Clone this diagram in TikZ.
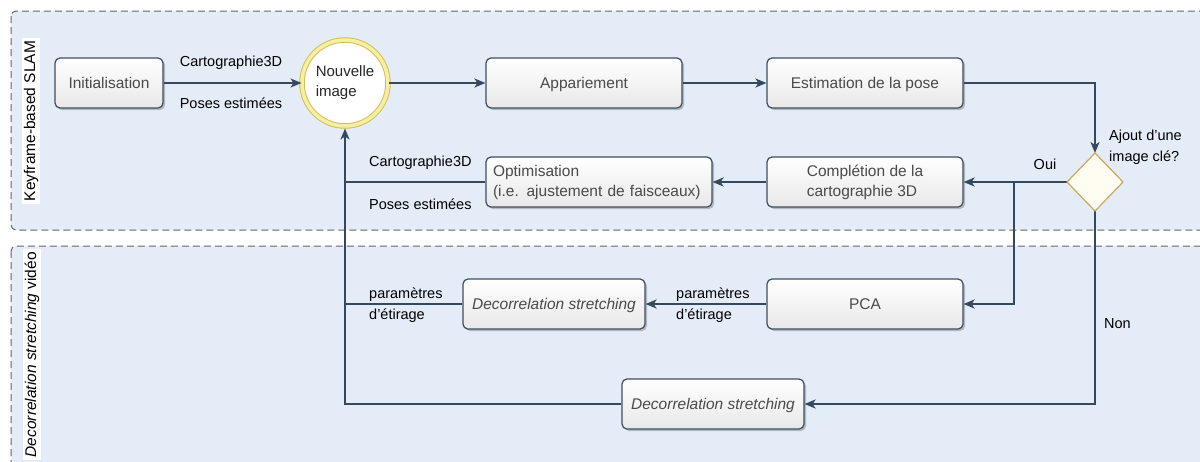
\documentclass[tikz,border=0pt]{standalone}
\usepackage{fontspec}
\setmainfont{Liberation Sans}
\usetikzlibrary{arrows.meta,shadows,shapes.geometric}
\definecolor{lanefill}{HTML}{E4ECF8}
\definecolor{laneborder}{HTML}{666666}
\definecolor{boxborder}{HTML}{3E4E60}
\definecolor{boxtext}{HTML}{4A4A4A}
\definecolor{arrowc}{HTML}{34495E}
\definecolor{gold}{HTML}{D6BE4E}
\definecolor{paleyellow}{HTML}{F5EFA6}
\definecolor{diamondborder}{HTML}{C9A85C}
\definecolor{diamondfill}{HTML}{FFFDF2}
\begin{document}
\begin{tikzpicture}[x=1pt,y=-1pt,
  lane/.style={draw=laneborder, dash pattern=on 7pt off 4pt, fill=lanefill, rounded corners=5pt, line width=1pt},
  lanelabel/.style={fill=white, rotate=90, font=\fontsize{15.5}{18}\selectfont, inner xsep=3pt, inner ysep=2pt},
  box/.style={draw=boxborder, line width=1.2pt, rounded corners=5pt, top color=white, bottom color=black!9,
    drop shadow={shadow xshift=2pt, shadow yshift=-2pt, opacity=0.22, fill=black},
    text=boxtext, font=\fontsize{15.5}{20}\selectfont, minimum height=50pt, inner sep=0pt},
  onebox/.style={box, text depth=0pt},
  itbox/.style={onebox, font=\fontsize{15.5}{20}\selectfont\itshape},
  lbl/.style={font=\fontsize{14.5}{21}\selectfont, text=black, inner sep=0pt},
  arr/.style={draw=arrowc, line width=1.8pt, -{Stealth[length=11pt,width=9pt,inset=3pt]}},
  ln/.style={draw=arrowc, line width=1.8pt}]

\useasboundingbox (0,0) rectangle (1200,461);
\begin{scope}
  \clip (0,0) rectangle (1200,461);
  \path[lane] (11,11) rectangle (1215,230);
  \path[lane] (11,246) rectangle (1215,490);
  \node[lanelabel] (lab1) at (31,121) {Keyframe-based SLAM};
  \node[lanelabel, anchor=east] (lab2) at (32,249) {\itshape Decorrelation stretching\/\upshape{} vidéo};
\end{scope}

% nodes
\node[onebox, minimum width=108pt] (init) at (109,83) {Initialisation};
\node[circle, draw=gold, line width=1pt, double=paleyellow, double distance=3.5pt,
      fill=white, minimum size=86pt, inner sep=0pt,
      align=left, text=black!85, font=\fontsize{15}{20}\selectfont] (nouv) at (345,83) {Nouvelle\\image};
\node[onebox, minimum width=196pt] (app) at (584,83) {Appariement};
\node[onebox, minimum width=196pt] (est) at (865,83) {Estimation de la pose};
\node[diamond, minimum width=56pt, minimum height=58pt, inner sep=0pt, outer sep=0pt] (dec) at (1095,182) {};
\node[lbl, anchor=west, align=left] (declbl) at (1109,147) {Ajout d'une\\image clé?};
\node[box, minimum width=196pt, align=left] (comp) at (865,182) {Complétion de la\\cartographie 3D};
\node[box, minimum width=226pt, text width=212pt, align=left] (opt) at (599,182) {Optimisation\\(i.e. ajustement de faisceaux)};
\node[onebox, minimum width=196pt] (pca) at (865,304) {PCA};
\node[itbox, minimum width=182pt] (ds1) at (554,304) {Decorrelation stretching};
\node[itbox, minimum width=182pt] (ds2) at (713,404) {Decorrelation stretching};

% junctions
\coordinate (dW) at (dec.west);
\coordinate (dS) at (dec.south);
\coordinate (b1) at (1014,182);
\coordinate (j1) at (nouv.south |- opt.west);
\coordinate (j2) at (nouv.south |- ds1.west);

% connectors
\draw[arr] (init) -- (nouv.west);
\draw[arr] (nouv.east) -- (app);
\draw[arr] (app) -- (est);
\draw[arr] (est.east) -| (dec.north);
\draw[arr] (dW) -- (comp.east);
\draw[arr] (b1) |- (pca.east);
\draw[arr] (dS) |- (ds2.east);
\draw[arr] (comp) -- (opt);
\draw[arr] (pca) -- (ds1);
\draw[ln] (opt.west) -- (j1);
\draw[ln] (ds1.west) -- (j2);
\draw[arr, shorten >=2pt] (ds2.west) -| (nouv.south);

% visible diamond
\draw[draw=diamondborder, line width=1.2pt, fill=diamondfill, line join=round]
  (dec.north) -- (dec.east) -- (dec.south) -- (dec.west) -- cycle;

% labels
\node[lbl] (l1) at (231,63) {Cartographie3D};
\node[lbl] (l2) at (231,103) {Poses estimées};
\node[lbl, anchor=west] (l3) at (369,163) {Cartographie3D};
\node[lbl, anchor=west] (l4) at (369,204) {Poses estimées};
\node[lbl] (oui) at (1045,164) {Oui};
\node[lbl, anchor=west, align=left] (p1) at (676,305) {paramètres\\d'étirage};
\node[lbl, anchor=west, align=left] (p2) at (369,305) {paramètres\\d'étirage};
\node[lbl, anchor=west] (non) at (1104,324) {Non};
\end{tikzpicture}
\end{document}
